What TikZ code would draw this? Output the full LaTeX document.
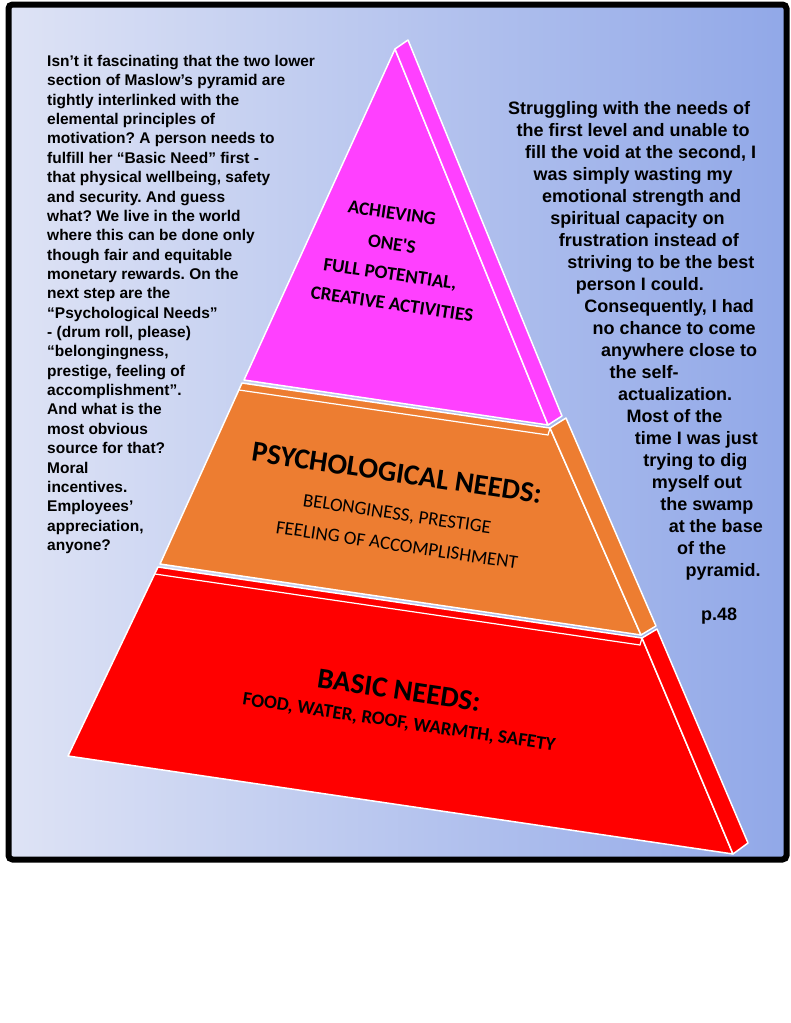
\documentclass[tikz,border=0pt]{standalone}
\usepackage{fontspec}
\setmainfont{Liberation Sans}
\newfontfamily\calibri{Carlito}
\frenchspacing
\definecolor{bgleft}{RGB}{222,227,245}
\definecolor{bgright}{RGB}{145,168,232}
\definecolor{topmag}{RGB}{255,64,255}
\definecolor{midorange}{RGB}{237,125,49}
\definecolor{basered}{RGB}{255,0,0}

\begin{document}
\begin{tikzpicture}[x=1pt,y=-1pt,
    tier/.style={draw=white,line width=1.5pt,line join=round},
    lip/.style={draw=white,line width=1.2pt},
    lefttxt/.style={anchor=base west,inner sep=0pt,font=\fontsize{15.5}{19}\selectfont\bfseries},
    righttxt/.style={anchor=base west,inner sep=0pt,font=\fontsize{18}{22}\selectfont\bfseries},
    biglbl/.style={inner sep=0pt,rotate=-8.4,font=\calibri\fontsize{29}{30}\selectfont\bfseries},
    smalllbl/.style={inner sep=0pt,rotate=-8.4,font=\calibri\fontsize{19}{20}\selectfont\bfseries},
    thinlbl/.style={inner sep=0pt,rotate=-8.4,font=\calibri\fontsize{19}{20}\selectfont}]
  \useasboundingbox (0,0) rectangle (791,1023);
  \fill[white] (0,0) rectangle (791,1023);
  \shade[left color=bgleft,right color=bgright] (8.5,4.5) rectangle (786.5,859.5);
  \draw[line width=6pt,rounded corners=4pt] (8.5,4.5) rectangle (786.5,859.5);

  % pyramid corners
  \coordinate (apex) at (395,49);
  \coordinate (mBL) at (244,380);
  \coordinate (mBR) at (548,425);
  \coordinate (oTL) at (242,383);
  \coordinate (oTR) at (550,428);
  \coordinate (oBR) at (641,635);
  \coordinate (oBL) at (160,564);
  \coordinate (rTL) at (158,567);
  \coordinate (rTR) at (642,638);
  \coordinate (rBR) at (733,854);
  \coordinate (rBL) at (68,756);

  % base tier
  \filldraw[tier,fill=basered] (rTL) -- (rTR) -- (rBR) -- (rBL) -- cycle;
  \filldraw[tier,fill=basered] (rTR) -- (657,629) -- (748,843) -- (rBR) -- cycle;
  \draw[lip] (155,574) -- (640,645) -- (rTR);

  % middle tier
  \filldraw[tier,fill=midorange] (oTL) -- (oTR) -- (oBR) -- (oBL) -- cycle;
  \filldraw[tier,fill=midorange] (oTR) -- (566,418) -- (656,626) -- (oBR) -- cycle;
  \draw[lip] (239,390) -- (548,435) -- (oTR);

  % top tier
  \filldraw[tier,fill=topmag] (apex) -- (mBR) -- (mBL) -- cycle;
  \filldraw[tier,fill=topmag] (apex) -- (408,40) -- (562,416) -- (mBR) -- cycle;

  % labels
  \node[smalllbl] (ach) at (392,213) {ACHIEVING};
  \node[smalllbl] (ones) at (392,244) {ONE\textquotesingle S};
  \node[smalllbl] (full) at (390,275) {FULL POTENTIAL,};
  \node[smalllbl] (creat) at (392,304) {CREATIVE ACTIVITIES};
  \node[biglbl] (psy) at (397,473) {PSYCHOLOGICAL NEEDS:};
  \node[thinlbl] (belong) at (397,515) {BELONGINESS, PRESTIGE};
  \node[thinlbl] (feel) at (397,545) {FEELING OF ACCOMPLISHMENT};
  \node[biglbl] (basic) at (399,690) {BASIC NEEDS:};
  \node[smalllbl] (food) at (399,723) {FOOD, WATER, ROOF, WARMTH, SAFETY};

  % left column
  \foreach \ln [count=\i] in {{Isn’t it fascinating that the two lower},
      {section of Maslow’s pyramid are}, {tightly interlinked with the},
      {elemental principles of}, {motivation? A person needs to},
      {fulfill her “Basic Need” first -}, {that physical wellbeing, safety},
      {and security. And guess}, {what? We live in the world},
      {where this can be done only}, {though fair and equitable},
      {monetary rewards. On the}, {next step are the},
      {“Psychological Needs”}, {- (drum roll, please)},
      {“belongingness,}, {prestige, feeling of}, {accomplishment”.},
      {And what is the}, {most obvious}, {source for that?}, {Moral},
      {incentives.}, {Employees’}, {appreciation,}, {anyone?}}
    \node[lefttxt] (left\i) at (47,{66.5+19.36*(\i-1)}) {\ln};

  % right column
  \foreach \ln [count=\i] in {{Struggling with the needs of},
      {the first level and unable to}, {fill the void at the second, I},
      {was simply wasting my}, {emotional strength and},
      {spiritual capacity on}, {frustration instead of},
      {striving to be the best}, {person I could.},
      {Consequently, I had}, {no chance to come},
      {anywhere close to}, {the self-}, {actualization.},
      {Most of the}, {time I was just}, {trying to dig},
      {myself out}, {the swamp}, {at the base}, {of the}, {pyramid.}}
    \node[righttxt] (right\i) at ({508+8.45*(\i-1)},{114+22*(\i-1)}) {\ln};
  \node[righttxt] (page) at (701,620) {p.48};
\end{tikzpicture}
\end{document}
